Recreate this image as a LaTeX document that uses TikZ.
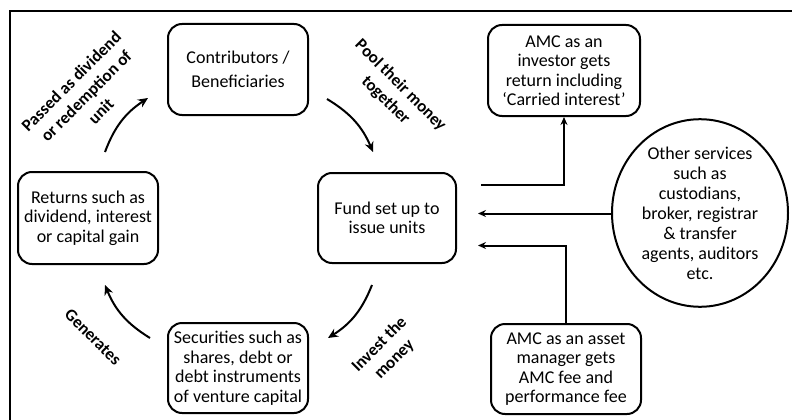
\documentclass[tikz,border=0pt]{standalone}
\usepackage{fontspec}
\setmainfont{Carlito}
\usetikzlibrary{arrows.meta,shapes.geometric}
\begin{document}
\begin{tikzpicture}[x=1pt,y=-1pt,
  box/.style={draw,line width=2pt,rounded corners=14pt,align=center,inner sep=1pt,
    font=\fontsize{18}{19.5}\selectfont},
  lbl/.style={font=\bfseries\fontsize{17}{21}\selectfont,align=center,inner sep=0pt},
  arr/.style={line width=2pt,-{Stealth[length=8pt,width=7pt]}},
  flow/.style={line width=2pt,-{Stealth[length=10pt,width=9pt]}}]
\useasboundingbox (0,0) rectangle (792,420);
\draw[line width=2.5pt] (10,430) -- (10,11) -- (800,11);
\node[box,minimum width=140pt,minimum height=91pt] (contrib) at (238,69.5)
  {Contributors /\\[4.5pt]Beneficiaries};
\node[box,minimum width=140pt,minimum height=92pt] (returns) at (88,218)
  {Returns such as\\dividend, interest\\or capital gain};
\node[box,minimum width=138pt,minimum height=90pt] (fund) at (387,218)
  {Fund set up to\\issue units};
\node[box,minimum width=140pt,minimum height=90pt] (sec) at (238,368)
  {Securities such as\\shares, debt or\\debt instruments\\of venture capital};
\node[box,minimum width=152pt,minimum height=91pt] (amcinv) at (564,70.5)
  {AMC as an\\investor gets\\return including\\‘Carried interest’};
\node[draw,ellipse,line width=2pt,minimum width=176pt,minimum height=160pt,inner sep=0pt,
  align=center,font=\fontsize{18}{20}\selectfont] (other) at (700,213)
  {Other services\\such as\\custodians,\\broker, registrar\\\& transfer\\agents, auditors\\etc.};
\node[box,minimum width=150pt,minimum height=90pt] (amcasset) at (566,369)
  {AMC as an asset\\manager gets\\AMC fee and\\performance fee};
% straight connectors
\coordinate (s1) at (481,185);
\coordinate (e2) at (478,213.5);
\coordinate (e3) at (478,245.5);
\draw[arr] (s1) -- (amcinv.south |- s1) -- (amcinv.south);
\draw[arr] (other.west |- e2) -- (e2);
\draw[arr] (amcasset.north) -- (amcasset.north |- e3) -- (e3);
% curved flow arrows
\coordinate (a1) at (105,152); \coordinate (b1) at (148,98);
\coordinate (a2) at (327,99);  \coordinate (b2) at (373,152);
\coordinate (a3) at (372,285); \coordinate (b3) at (328,338);
\coordinate (a4) at (150,338); \coordinate (b4) at (105,285);
\draw[flow] (a1) to[bend left=18] (b1);
\draw[flow] (a2) to[bend left=18] (b2);
\draw[flow] (a3) to[bend left=18] (b3);
\draw[flow] (a4) to[bend left=18] (b4);
% labels
\node[lbl,rotate=45] (l1) at (86,96) {Passed as dividend\\or redemption of\\unit};
\node[lbl,rotate=-45] (l2) at (393,93) {Pool their money\\together};
\node[lbl,rotate=45] (l3) at (387,352) {Invest the\\money};
\node[lbl,rotate=-45] (l4) at (93,337) {Generates};
\end{tikzpicture}
\end{document}
